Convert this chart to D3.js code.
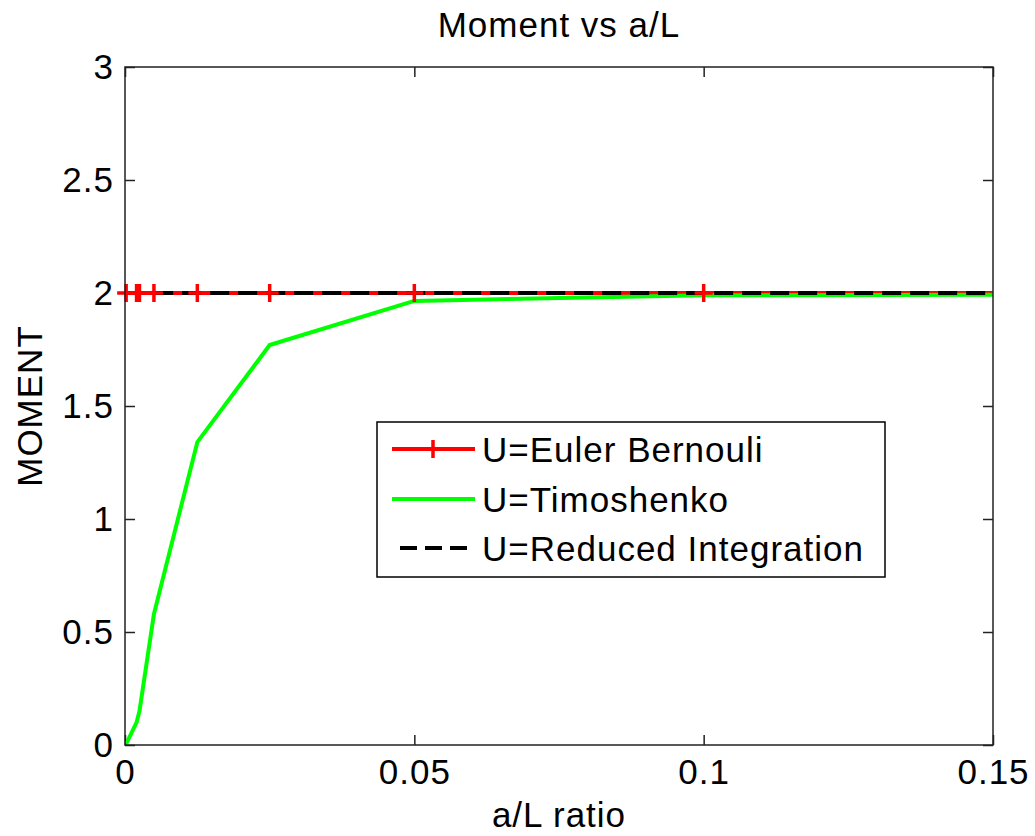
<!DOCTYPE html>
<html>
<head>
<meta charset="utf-8">
<script src="https://cdn.jsdelivr.net/npm/d3@7"></script>
<style>
  body { margin: 0; background: #fff; }
  text { font-family: "Liberation Sans", Arial, Helvetica, sans-serif; }
</style>
</head>
<body>
<script>
// a/L ratios used for each run
var ratios = [0.0002, 0.002, 0.0025, 0.005, 0.0125, 0.025, 0.05, 0.1, 0.2];
var eulerMoment = [2, 2, 2, 2, 2, 2, 2, 2, 2];
var timoMoment = [0.005, 0.1, 0.15, 0.58, 1.34, 1.77, 1.965, 1.99, 1.995];
var reducedMoment = [2, 2, 2, 2, 2, 2, 2, 2, 2];

var xTicks = [0, 0.05, 0.1, 0.15];
var xTickLabels = ["0", "0.05", "0.1", "0.15"];
var yTicks = [0, 0.5, 1, 1.5, 2, 2.5, 3];
var yTickLabels = ["0", "0.5", "1", "1.5", "2", "2.5", "3"];

var legendNames = ["U=Euler Bernouli", "U=Timoshenko", "U=Reduced Integration"];

var width = 1035, height = 836;
var plotLeft = 125, plotRight = 993, plotTop = 67, plotBottom = 745;
var fontSize = 35;

var canvas = d3.select("body")
               .append("svg")
               .attr("width", width)
               .attr("height", height);

var x = d3.scaleLinear().domain([0, 0.15]).range([plotLeft, plotRight]);
var y = d3.scaleLinear().domain([0, 3]).range([plotBottom, plotTop]);

canvas.append("defs").append("clipPath")
      .attr("id", "plotArea")
      .append("rect")
      .attr("x", plotLeft).attr("y", plotTop)
      .attr("width", plotRight - plotLeft).attr("height", plotBottom - plotTop);

function styleAxis(g) {
    g.select(".domain").remove();
    g.selectAll(".tick line").attr("stroke", "#222").attr("stroke-width", 1.5);
    g.selectAll(".tick text")
     .attr("fill", "#000")
     .attr("font-size", fontSize)
     .attr("letter-spacing", 1);
}

canvas.append("g")
      .attr("transform", "translate(0," + plotBottom + ")")
      .call(d3.axisBottom(x).tickValues(xTicks)
              .tickFormat(function(d, i) { return xTickLabels[i]; })
              .tickSizeInner(-10).tickSizeOuter(0).tickPadding(14))
      .call(styleAxis);

canvas.append("g")
      .attr("transform", "translate(0," + plotTop + ")")
      .call(d3.axisTop(x).tickValues(xTicks).tickFormat("")
              .tickSizeInner(-10).tickSizeOuter(0))
      .call(styleAxis);

canvas.append("g")
      .attr("transform", "translate(" + plotLeft + ",0)")
      .call(d3.axisLeft(y).tickValues(yTicks)
              .tickFormat(function(d, i) { return yTickLabels[i]; })
              .tickSizeInner(-10).tickSizeOuter(0).tickPadding(11))
      .call(styleAxis);

canvas.append("g")
      .attr("transform", "translate(" + plotRight + ",0)")
      .call(d3.axisRight(y).tickValues(yTicks).tickFormat("")
              .tickSizeInner(-10).tickSizeOuter(0))
      .call(styleAxis);

var line = d3.line()
             .x(function(d) { return x(d[0]); })
             .y(function(d) { return y(d[1]); });

function pairs(vals) {
    return ratios.map(function(r, i) { return [r, vals[i]]; });
}

var plot = canvas.append("g").attr("clip-path", "url(#plotArea)");

plot.append("path")
    .attr("d", line(pairs(eulerMoment)))
    .attr("fill", "none")
    .attr("stroke", "#ff0000")
    .attr("stroke-width", 4);

function plus(sel, size) {
    sel.append("line").attr("x1", -size).attr("x2", size).attr("y1", 0).attr("y2", 0);
    sel.append("line").attr("x1", 0).attr("x2", 0).attr("y1", -size).attr("y2", size);
}

canvas.append("g")
      .selectAll("g")
      .data(pairs(eulerMoment).filter(function(d) { return d[0] <= 0.15; }))
      .enter()
            .append("g")
            .attr("transform", function(d) { return "translate(" + x(d[0]) + "," + y(d[1]) + ")"; })
            .attr("stroke", "#ff0000")
            .attr("stroke-width", 3.5)
            .each(function() { plus(d3.select(this), 9); });

plot.append("path")
    .attr("d", line(pairs(timoMoment)))
    .attr("fill", "none")
    .attr("stroke", "#00ff00")
    .attr("stroke-width", 4)
    .attr("stroke-linejoin", "round");

plot.append("path")
    .attr("d", line(pairs(reducedMoment)))
    .attr("fill", "none")
    .attr("stroke", "#000")
    .attr("stroke-width", 4)
    .attr("stroke-dasharray", "19 9");

// axis frame on top
canvas.append("rect")
      .attr("x", plotLeft).attr("y", plotTop)
      .attr("width", plotRight - plotLeft).attr("height", plotBottom - plotTop)
      .attr("fill", "none")
      .attr("stroke", "#222")
      .attr("stroke-width", 1.5);

// legend
var legend = canvas.append("g").attr("transform", "translate(377,422)");

legend.append("rect")
      .attr("width", 508).attr("height", 155)
      .attr("fill", "#fff")
      .attr("stroke", "#000")
      .attr("stroke-width", 1.5);

var rowY = [27, 77, 126];
var legendColors = ["#ff0000", "#00ff00", "#000"];

legendNames.forEach(function(name, i) {
    var row = legend.append("g").attr("transform", "translate(0," + rowY[i] + ")");
    if (i == 2) {
        row.append("line")
           .attr("x1", 23).attr("x2", 98).attr("y1", 0).attr("y2", 0)
           .attr("stroke", legendColors[i]).attr("stroke-width", 4)
           .attr("stroke-dasharray", "17 8");
    } else {
        row.append("line")
           .attr("x1", 15).attr("x2", 98).attr("y1", 0).attr("y2", 0)
           .attr("stroke", legendColors[i]).attr("stroke-width", 4);
    }
    if (i == 0) {
        row.append("g")
           .attr("transform", "translate(56,0)")
           .attr("stroke", "#ff0000").attr("stroke-width", 3.5)
           .call(plus, 9);
    }
    row.append("text")
       .attr("x", 105).attr("y", 0).attr("dy", "0.36em")
       .attr("font-size", fontSize)
       .attr("letter-spacing", 1)
       .text(name);
});

// titles
canvas.append("text")
      .attr("x", (plotLeft + plotRight) / 2).attr("y", 37)
      .attr("text-anchor", "middle")
      .attr("font-size", fontSize)
      .attr("letter-spacing", 1)
      .text("Moment vs a/L");

canvas.append("text")
      .attr("x", (plotLeft + plotRight) / 2).attr("y", 827)
      .attr("text-anchor", "middle")
      .attr("font-size", fontSize)
      .attr("letter-spacing", 1)
      .text("a/L ratio");

canvas.append("text")
      .attr("transform", "translate(42," + (plotTop + plotBottom) / 2 + ") rotate(-90)")
      .attr("text-anchor", "middle")
      .attr("font-size", fontSize)
      .attr("letter-spacing", 1)
      .text("MOMENT");
</script>
</body>
</html>
